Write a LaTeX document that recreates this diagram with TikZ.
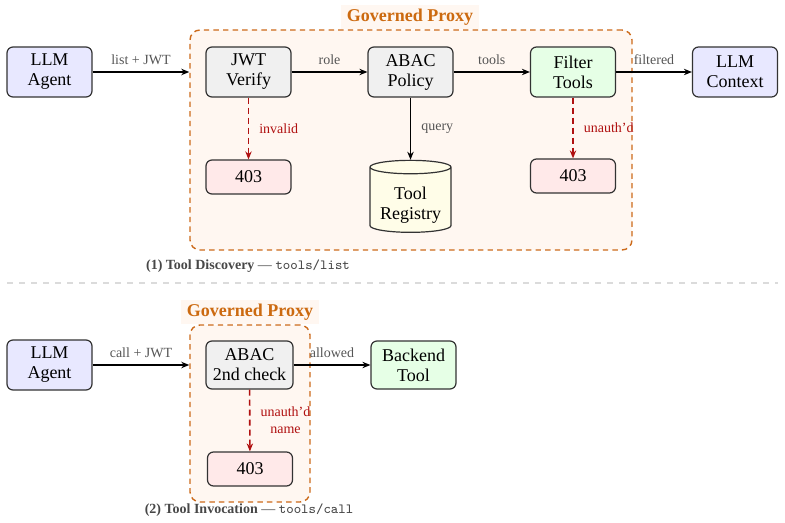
\documentclass[tikz,border=0pt]{standalone}
\usepackage{fontspec}
\setmainfont{Liberation Serif}
\usetikzlibrary{arrows.meta,shapes.geometric}
\definecolor{agentfill}{HTML}{E8E8FF}
\definecolor{grayfill}{HTML}{F0F0F0}
\definecolor{greenfill}{HTML}{E6FFE6}
\definecolor{pinkfill}{HTML}{FFE9E9}
\definecolor{yellowfill}{HTML}{FFFDE8}
\definecolor{proxyfill}{HTML}{FFF7F1}
\definecolor{proxyline}{HTML}{CC6A1A}
\definecolor{proxytitle}{HTML}{CC6A10}
\definecolor{labelgray}{HTML}{555555}
\definecolor{denyred}{HTML}{B01010}
\begin{document}
\begin{tikzpicture}[x=0.5pt,y=-0.5pt,
  box/.style={draw=black!80, line width=0.6pt, rounded corners=3pt, align=center,
    font=\fontsize{9}{10}\selectfont, inner sep=0pt, minimum width=42.5pt, minimum height=25pt},
  errbox/.style={box, fill=pinkfill, minimum height=17pt},
  proxybox/.style={draw=proxyline, fill=proxyfill, line width=0.7pt, rounded corners=5pt,
    dash pattern=on 2.7pt off 2.1pt, inner sep=0pt},
  proxylabel/.style={fill=proxyfill, text=proxytitle, font=\fontsize{9}{10}\selectfont\bfseries,
    inner xsep=3pt, inner ysep=2pt},
  arr/.style={-{Stealth[length=4pt,width=3.2pt]}, line width=0.8pt, draw=black},
  denyarr/.style={-{Stealth[length=4pt,width=3.2pt]}, line width=0.8pt, draw=denyred,
    dash pattern=on 3pt off 2pt},
  elabel/.style={font=\fontsize{7}{8}\selectfont, text=labelgray, inner sep=1pt},
  dlabel/.style={font=\fontsize{7}{8.5}\selectfont, text=denyred, inner sep=0pt, align=center},
  caption/.style={font=\fontsize{7}{8.5}\selectfont, text=black!72},
  sepline/.style={draw=black!14, line width=0.8pt, dash pattern=on 3pt off 3pt}
]
\useasboundingbox (0,0) rectangle (785,523);

% ---------- (1) Tool discovery ----------
\node[proxybox, minimum width=221pt, minimum height=110pt] (proxy1) at (411,140) {};
\node[proxylabel] (title1) at (410,17) {Governed Proxy};

\node[box, fill=agentfill] (agent1) at (49.5,72) {LLM\\Agent};
\node[box, fill=grayfill] (jwt) at (248.5,72) {JWT\\Verify};
\node[box, fill=grayfill] (abac) at (410.5,72) {ABAC\\Policy};
\node[box, fill=greenfill] (filter) at (573,72) {Filter\\Tools};
\node[box, fill=agentfill] (ctx) at (735,72) {LLM\\Context};
\node[errbox] (err1) at (248.5,177) {403};
\node[errbox] (err2) at (573,176) {403};
\node[cylinder, shape border rotate=90, draw=black!80, line width=0.6pt, fill=yellowfill,
  aspect=0.22, minimum width=40.5pt, minimum height=36pt, inner sep=0pt,
  font=\fontsize{9}{10}\selectfont,
  label={[align=center, font=\fontsize{9}{10}\selectfont, yshift=-2.5pt]center:Tool\\Registry}] (reg) at (410.5,200) {\phantom{Registry}};

\draw[arr] (agent1) -- (agent1 -| proxy1.west) node[midway, elabel, yshift=6pt] {list + JWT};
\draw[arr] (jwt) -- (abac) node[midway, elabel, yshift=6pt] {role};
\draw[arr] (abac) -- (filter) node[midway, elabel, yshift=6pt] {tools};
\draw[arr] (filter) -- (ctx) node[midway, elabel, yshift=6pt] {filtered};
\draw[denyarr] (jwt) -- (err1) node[midway, dlabel, anchor=west, xshift=5pt] {invalid};
\draw[arr] (abac) -- (reg.top) node[midway, elabel, anchor=west, xshift=4pt] {query};
\draw[denyarr] (filter) -- (err2) node[midway, dlabel, anchor=west, xshift=5pt] {unauth'd};

\node[caption] (cap1) at (248,266) {\textbf{(1) Tool Discovery} — \texttt{tools/list}};

\coordinate (sepL) at (7,283);
\coordinate (sepR) at (778,283);
\draw[sepline] (sepL) -- (sepR);

% ---------- (2) Tool invocation ----------
\node[proxybox, minimum width=60pt, minimum height=88.5pt] (proxy2) at (250,413.5) {};
\node[proxylabel] (title2) at (250,312) {Governed Proxy};

\node[box, fill=agentfill] (agent2) at (49.5,365) {LLM\\Agent};
\node[box, fill=grayfill, minimum width=43.5pt, minimum height=24pt] (abac2) at (249.5,365) {ABAC\\2nd check};
\node[box, fill=greenfill, minimum height=24pt] (backend) at (413.5,365) {Backend\\Tool};
\node[errbox] (err3) at (250,469) {403};

\draw[arr] (agent2) -- (agent2 -| proxy2.west) node[midway, elabel, yshift=6pt] {call + JWT};
\draw[arr] (abac2) -- (backend) node[midway, elabel, yshift=6pt] {allowed};
\draw[denyarr] (abac2) -- (err3) node[midway, dlabel, anchor=west, xshift=5pt] {unauth'd\\name};

\node[caption] (cap2) at (249,510) {\textbf{(2) Tool Invocation} — \texttt{tools/call}};
\end{tikzpicture}
\end{document}
